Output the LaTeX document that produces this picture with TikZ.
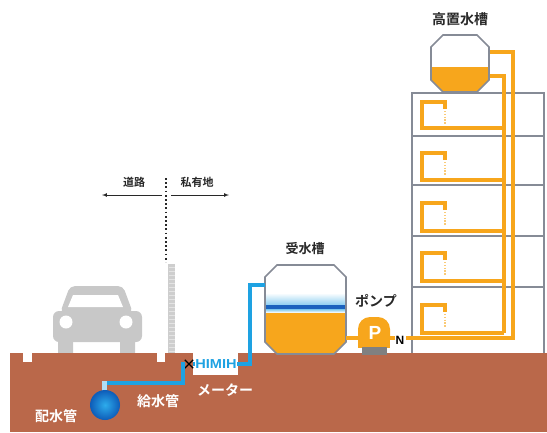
\documentclass[tikz,border=0pt]{standalone}
\usepackage{fontspec}
\newfontfamily\jpfont{Noto Sans CJK JP}[BoldFont={Noto Sans CJK JP Bold}]
\newfontfamily\latfont{Liberation Sans}
\usetikzlibrary{arrows,shapes.misc}
\definecolor{soil}{RGB}{186, 104, 74}
\definecolor{tangerine}{RGB}{247, 166, 28}
\definecolor{riverblue}{RGB}{30, 162, 226}
\definecolor{deepblue}{RGB}{26, 98, 190}
\definecolor{skyblue}{RGB}{140, 206, 240}
\definecolor{ballcore}{RGB}{45, 172, 236}
\definecolor{ballrim}{RGB}{14, 92, 184}
\definecolor{concrete}{RGB}{134, 139, 150}
\definecolor{silver}{RGB}{200, 200, 200}
\definecolor{ink}{RGB}{40, 40, 40}

% octagonal tank outline: x1, y1, x2, y2, chamfer
\newcommand{\octagon}[5]{(#1+#5,#2) -- (#3-#5,#2) -- (#3,#2+#5) -- (#3,#4-#5) -- (#3-#5,#4) -- (#1+#5,#4) -- (#1,#4-#5) -- (#1,#2+#5) -- cycle}

\tikzset{
  pipe/.style={tangerine, line width=3.2},
  supply/.style={riverblue, line width=3.6},
  tankwall/.style={concrete, line width=1.6},
  caption/.style={font=\jpfont\bfseries\fontsize{14}{14}\selectfont, text=ink, inner sep=0},
  underground/.style={caption, text=white},
}

\begin{document}
\begin{tikzpicture}[x=1pt, y=-1pt]
  \useasboundingbox (0,0) rectangle (547,432);

  % road side: car, boundary post, boundary marks
  \fill[silver, rounded corners=5] (60,313) -- (70,286) -- (123,286) -- (133,313) -- cycle;
  \fill[white] (73,295) -- (118,295) -- (123,307) -- (68,307) -- cycle;
  \fill[silver, rounded corners=6] (53,311) rectangle (142,342);
  \fill[silver, rounded corners=3] (58,336) rectangle (73,356);
  \fill[silver, rounded corners=3] (120,336) rectangle (135,356);
  \fill[white] (66,322) circle (6.5);
  \fill[white] (126,322) circle (6.5);

  \fill[silver!90] (168,264) rectangle (175,353);
  \foreach \y in {267,271,...,351}
    \draw[silver!50, line width=0.4] (168.5,\y) -- (174.5,\y);
  \draw[ink, line width=1.8, dash pattern=on 1.8 off 2.4] (166,178) -- (166,262);
  \draw[ink, line width=0.7, -latex] (162,195) -- (102,195);
  \draw[ink, line width=0.7, -latex] (171,195) -- (229,195);
  \node[caption, font=\jpfont\bfseries\fontsize{11}{11}\selectfont] (road) at (134,182) {道路};
  \node[caption, font=\jpfont\bfseries\fontsize{11}{11}\selectfont] (lot) at (197,182) {私有地};

  % building with floors
  \draw[concrete, line width=1.8] (412,353) -- (412,93) -- (544,93) -- (544,353);
  \foreach \fl in {136,185,236,287}
    \draw[concrete, line width=1.8] (412,\fl) -- (544,\fl);

  % elevated tank
  \begin{scope}
    \clip \octagon{431}{35}{489}{92}{12};
    \fill[white] (431,35) rectangle (489,92);
    \fill[tangerine] (431,67) rectangle (489,92);
  \end{scope}
  \draw[tankwall] \octagon{431}{35}{489}{92}{12};
  \node[caption] (hightank) at (460,19) {高置水槽};
  \coordinate (hiIn) at (490,52);
  \coordinate (hiOut) at (490,76);

  % ground
  \fill[soil] (10,353) rectangle (547,432);
  \fill[white] (23,353) rectangle (32,362);
  \fill[white] (157,353) rectangle (165,362);
  \fill[white] (193,353) rectangle (238,375);

  % receiving tank
  \begin{scope}
    \clip \octagon{265}{265}{346}{354}{12};
    \fill[white] (265,265) rectangle (346,354);
    \shade[top color=white, bottom color=skyblue] (265,293) rectangle (346,305);
    \fill[deepblue] (265,305) rectangle (346,309.5);
    \shade[top color=skyblue, bottom color=white] (265,309.5) rectangle (346,312.5);
    \fill[tangerine] (265,312.5) rectangle (346,354);
  \end{scope}
  \draw[tankwall] \octagon{265}{265}{346}{354}{12};
  \node[caption, font=\jpfont\bfseries\fontsize{13}{13}\selectfont] (lowtank) at (305,249) {受水槽};
  \coordinate (lowIn) at (265,285);
  \coordinate (lowOut) at (346,338);

  % pump
  \fill[tangerine, rounded corners=12] (358,317) rectangle (390,348);
  \fill[tangerine] (358,333) rectangle (390,348);
  \fill[gray] (362,347) rectangle (387,355);
  \node[font=\latfont\bfseries\fontsize{19}{19}\selectfont, text=white, inner sep=0] (pump) at (375,333) {P};
  \node[caption] (pumplabel) at (376,301) {ポンプ};
  \coordinate (pumpIn) at (358,338);
  \coordinate (pumpOut) at (390,338);
  \node[font=\latfont\bfseries\fontsize{12}{12}\selectfont, inner sep=0] (check) at (400,340) {N};
  \coordinate (nport) at (406,338);

  % lift pipe and roof tank feed
  \draw[pipe] (lowOut) -- (pumpIn);
  \draw[pipe] (pumpOut) -- ++(4.5,0);
  \draw[pipe] (nport) -- ++(107,0) |- (hiIn);
  \draw[pipe] (hiOut) -| (504,333);
  \foreach \t/\b in {102/128, 153/180, 203/231, 253/281, 305/333} {
    \draw[pipe] (504,\b) -- (422,\b) -- (422,\t) -- (445,\t) -- ++(0,7);
    \draw[tangerine!60, line width=1.6, dash pattern=on 1.4 off 1.4] (445,\t+9) -- (445,\t+22);
  }

  % water main and service pipe
  \fill[riverblue!35!white] (102,381) rectangle (107,391);
  \shade[inner color=ballcore, outer color=ballrim] (105,405) circle (15);
  \coordinate (stub) at (107,383);
  \node[cross out, draw=black, line width=1.4, minimum size=7, inner sep=0] (valve) at (189,364) {};
  \node[font=\latfont\bfseries\fontsize{13}{13}\selectfont, text=riverblue, fill=white, inner sep=0.5] (meter) at (216,364) {\scalebox{1.12}[1]{HIMIH}};
  \draw[supply] (stub) -| (183,364) -- (valve);
  \draw[supply] (valve) -- (meter);
  \draw[supply] (meter) -- (250,364) |- (lowIn);

  \node[underground] (meterlabel) at (225,390) {メーター};
  \node[underground] (service) at (158,401) {給水管};
  \node[underground] (main) at (56,416) {配水管};
\end{tikzpicture}
\end{document}
